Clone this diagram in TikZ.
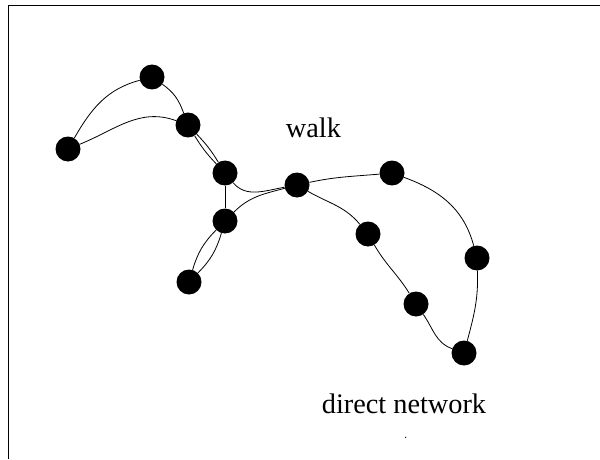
\documentclass[tikz,border=0pt]{standalone}
\usepackage{fontspec}
\setmainfont{Liberation Serif}
\begin{document}
\begin{tikzpicture}[x=1pt,y=1pt,
  vtx/.style={circle,fill=black,draw=none,minimum size=25pt,inner sep=0pt},
  edge/.style={line width=0.8pt},
  lbl/.style={anchor=base,font=\fontsize{28.3}{34}\selectfont}]
\useasboundingbox (0,0) rectangle (600,459);
\draw[line width=1pt] (8,0) -- (8,453.5) -- (600,453.5);
\node[vtx] (A) at (68,310) {};
\node[vtx] (B) at (152,382) {};
\node[vtx] (C) at (188,334) {};
\node[vtx] (D) at (225,286) {};
\node[vtx] (E) at (225,238) {};
\node[vtx] (F) at (189,177) {};
\node[vtx] (G) at (297,274) {};
\node[vtx] (H) at (392,286) {};
\node[vtx] (I) at (368,225) {};
\node[vtx] (J) at (477,201) {};
\node[vtx] (K) at (416,155) {};
\node[vtx] (L) at (464,106) {};
\draw[edge] (A) to[out=60,in=195] (B);
\draw[edge] (A) to[out=22,in=160] (C);
\draw[edge] (B) to[out=-35,in=110] (C);
\draw[edge] (C) to[bend left=6] (D);
\draw[edge] (C) to[bend right=6] (D);
\draw[edge] (D) -- (E);
\draw[edge] (D) to[out=-50,in=190] (G);
\draw[edge] (E) to[out=45,in=195] (G);
\draw[edge] (E) to[bend left=14] (F);
\draw[edge] (E) to[bend right=14] (F);
\draw[edge] (G) to[out=12,in=185] (H);
\draw[edge] (G) to[out=-30,in=130] (I);
\draw[edge] (H) to[out=-20,in=105] (J);
\draw[edge] (I) to[out=-60,in=122] (K);
\draw[edge] (K) to[out=-55,in=160] (L);
\draw[edge] (J) to[out=-88,in=75] (L);
\node[lbl] (walk) at (313.5,322) {walk};
\node[lbl] (dn) at (404,46) {direct network};
\fill (405.7,21.7) circle (0.7);
\end{tikzpicture}
\end{document}
